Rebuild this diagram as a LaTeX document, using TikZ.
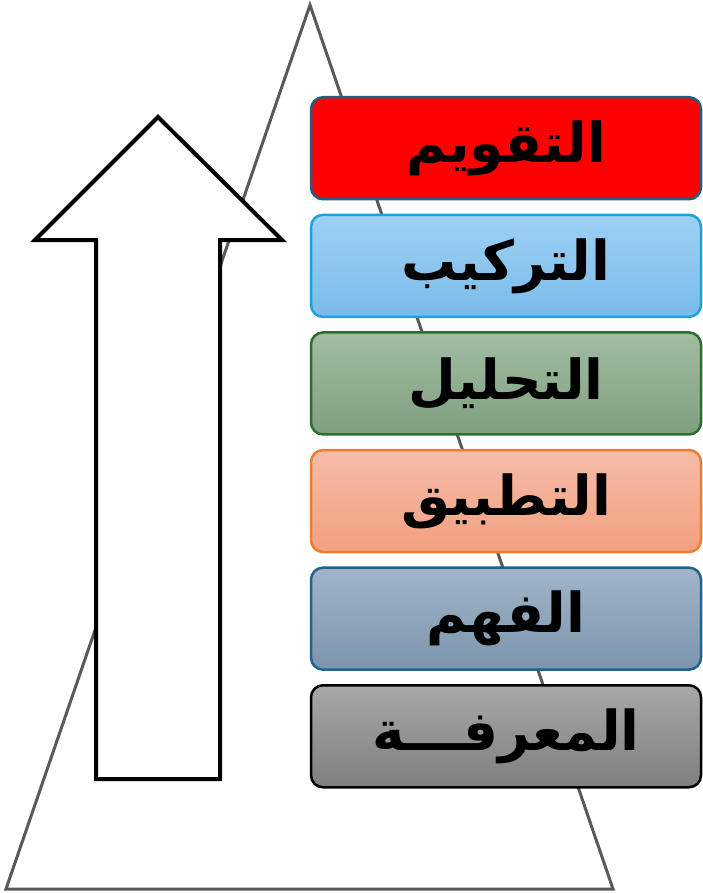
\documentclass[tikz,border=0pt]{standalone}
\usepackage{fontspec}
\newfontfamily\arabicfont[Script=Arabic]{DejaVu Sans}
\TeXXeTstate=1
\usetikzlibrary{positioning}
\definecolor{LvlRed}{HTML}{FF0000}
\definecolor{LvlRedEdge}{HTML}{1F5F80}
\definecolor{LvlBlueTop}{HTML}{9DD0F4}
\definecolor{LvlBlueBot}{HTML}{7BBBE9}
\definecolor{LvlBlueEdge}{HTML}{1AA3DA}
\definecolor{LvlGreenTop}{HTML}{A2BDA2}
\definecolor{LvlGreenBot}{HTML}{7F9F80}
\definecolor{LvlGreenEdge}{HTML}{2A6F32}
\definecolor{LvlPeachTop}{HTML}{F5BCA8}
\definecolor{LvlPeachBot}{HTML}{F2A07F}
\definecolor{LvlPeachEdge}{HTML}{ED7D31}
\definecolor{LvlSteelTop}{HTML}{A1B5C7}
\definecolor{LvlSteelBot}{HTML}{7B95AD}
\definecolor{LvlSteelEdge}{HTML}{1F6390}
\definecolor{LvlGrayTop}{HTML}{A7A7A7}
\definecolor{LvlGrayBot}{HTML}{7F7F7F}
\definecolor{PyrGray}{HTML}{595959}

\begin{document}
\begin{tikzpicture}[x=1pt,y=-1pt,
    lvlbox/.style={
      rounded corners=12pt,
      minimum width=390pt,
      minimum height=102pt,
      line width=2.5pt,
      inner sep=0pt,
      font=\arabicfont\bfseries\fontsize{55}{60}\selectfont
    }]
    \useasboundingbox (0,0) rectangle (702,893);

    % Pyramid outline
    \draw[PyrGray,line width=3pt,line join=miter] (310,5) -- (613,889) -- (6,889) -- cycle;

    % Upward block arrow
    \draw[black,fill=white,line width=4pt,line join=miter]
      (158,117) -- (282,240) -- (220,240) -- (220,779) -- (96,779) -- (96,240) -- (35,240) -- cycle;

    % Levels, top to bottom
    \node[lvlbox,draw=LvlRedEdge,fill=LvlRed] (eval) at (506,148.25) {\beginR التقويم\endR};
    \node[lvlbox,draw=LvlBlueEdge,top color=LvlBlueTop,bottom color=LvlBlueBot,below=13.1pt of eval] (synth) {\beginR التركيب\endR};
    \node[lvlbox,draw=LvlGreenEdge,top color=LvlGreenTop,bottom color=LvlGreenBot,below=13.1pt of synth] (anal) {\beginR التحليل\endR};
    \node[lvlbox,draw=LvlPeachEdge,top color=LvlPeachTop,bottom color=LvlPeachBot,below=13.1pt of anal] (appl) {\beginR التطبيق\endR};
    \node[lvlbox,draw=LvlSteelEdge,top color=LvlSteelTop,bottom color=LvlSteelBot,below=13.1pt of appl] (compr) {\beginR الفهم\endR};
    \node[lvlbox,draw=black,top color=LvlGrayTop,bottom color=LvlGrayBot,below=13.1pt of compr] (know) {\beginR المعرفـــة\endR};
  \end{tikzpicture}
\end{document}
